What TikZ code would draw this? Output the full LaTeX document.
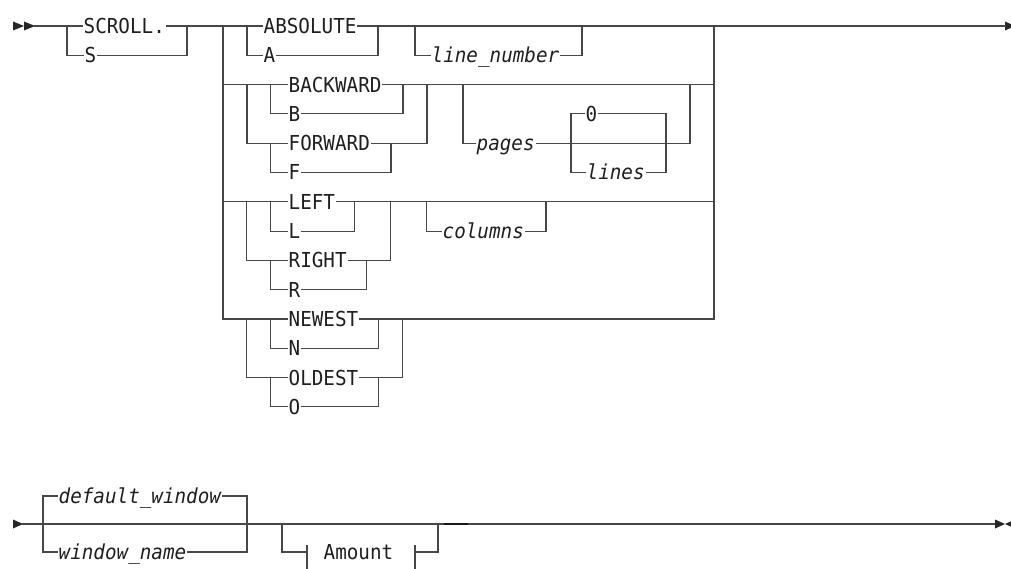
\documentclass[tikz,border=0pt]{standalone}
\usepackage{fontspec}
\newfontfamily\railfont[FakeStretch=0.935]{DejaVu Sans Mono}
\begin{document}
\begin{tikzpicture}[x=1pt,y=-1pt,
  rail/.style={line width=1.1pt, draw=black!72, line cap=rect},
  kw/.style={anchor=base west, inner xsep=1pt, inner ysep=1pt, fill=white, text=black!88,
    font={\railfont\fontsize{20.6pt}{21pt}\selectfont}},
  var/.style={kw, font={\railfont\itshape\fontsize{20.6pt}{21pt}\selectfont}},
  tip/.style={fill=black!85, draw=none}]
\useasboundingbox (0,0) rectangle (1011,569);
\clip (0,0) rectangle (1011,569);
% ---------- first line ----------
\coordinate (start1) at (35,26);
\coordinate (end1) at (1005,26);
\fill[tip] (13,21.5) -- (24,26) -- (13,30.5) -- cycle;
\fill[tip] (24,21.5) -- (35,26) -- (24,30.5) -- cycle;
\fill[tip] (1005,21.5) -- (1015,26) -- (1005,30.5) -- cycle;
\draw[rail] (start1) -- (end1);
% SCROLL. / S
\draw[rail] (67,26) -- (67,55.3) -- (187,55.3) -- (187,26);
% main verticals
\draw[rail] (223,26) -- (223,319);
\draw[rail] (714,26) -- (714,319);
% ABSOLUTE / A
\draw[rail] (247,26) -- (247,55.3) -- (378,55.3) -- (378,26);
% line_number
\draw[rail] (415,26) -- (415,55.3) -- (582,55.3) -- (582,26);
% row BACKWARD
\draw[rail] (223,84.6) -- (714,84.6);
\draw[rail] (247,84.6) -- (247,143.2) -- (427,143.2) -- (427,84.6);
\draw[rail] (270.7,84.6) -- (270.7,113.9) -- (403,113.9) -- (403,84.6);
\draw[rail] (270.7,143.2) -- (270.7,172.5) -- (391,172.5) -- (391,143.2);
% pages
\draw[rail] (463,84.6) -- (463,143.2) -- (690,143.2) -- (690,84.6);
\draw[rail] (571,113.9) rectangle (666,172.5);
% row LEFT
\draw[rail] (223,201.8) -- (714,201.8);
\draw[rail] (246.7,201.8) -- (246.7,260.4) -- (390.7,260.4) -- (390.7,201.8);
\draw[rail] (270.7,201.8) -- (270.7,231.1) -- (354.3,231.1) -- (354.3,201.8);
\draw[rail] (270.7,260.4) -- (270.7,289.7) -- (366.7,289.7) -- (366.7,260.4);
\draw[rail] (426.7,201.8) -- (426.7,231.1) -- (546,231.1) -- (546,201.8);
% row NEWEST
\draw[rail] (223,319) -- (714,319);
\draw[rail] (246.7,319) -- (246.7,377.6) -- (402.3,377.6) -- (402.3,319);
\draw[rail] (270.7,319) -- (270.7,348.3) -- (378.3,348.3) -- (378.3,319);
\draw[rail] (270.7,377.6) -- (270.7,406.9) -- (378.3,406.9) -- (378.3,377.6);
% texts, first line
\node[kw]  (scroll)  at (82.5,33.5)    {SCROLL.};
\node[kw]  (s)       at (83.5,62.8)  {S};
\node[kw]  (absolute) at (262.5,33.5)  {ABSOLUTE};
\node[kw]  (a)       at (262.5,62.8) {A};
\node[var] (linenum) at (430.5,62.8) {line\_number};
\node[kw]  (backward) at (287.5,92.1) {BACKWARD};
\node[kw]  (b)       at (287.5,121.4) {B};
\node[kw]  (forward) at (287.5,150.7) {FORWARD};
\node[kw]  (f)       at (287.5,180) {F};
\node[var] (pages)   at (475.5,150.7) {pages};
\node[kw]  (zero)    at (584.5,121.4) {0};
\node[var] (lines)   at (585.5,180) {lines};
\node[kw]  (left)    at (287.5,209.3) {LEFT};
\node[kw]  (l)       at (287.5,238.6) {L};
\node[kw]  (right)   at (287.5,267.9) {RIGHT};
\node[kw]  (r)       at (287.5,297.2) {R};
\node[var] (columns) at (441.5,238.6) {columns};
\node[kw]  (newest)  at (287.5,326.5)   {NEWEST};
\node[kw]  (n)       at (287.5,355.8) {N};
\node[kw]  (oldest)  at (287.5,385.1) {OLDEST};
\node[kw]  (o)       at (287.5,414.4) {O};
% ---------- second line ----------
\coordinate (start2) at (23,524);
\coordinate (end2) at (995,524);
\fill[tip] (13,519.5) -- (23,524) -- (13,528.5) -- cycle;
\draw[rail] (start2) -- (end2);
\fill[tip] (995,519.5) -- (1005,524) -- (995,528.5) -- cycle;
\fill[tip] (1015,519.5) -- (1005,524) -- (1015,528.5) -- cycle;
\draw[rail] (43,496) rectangle (247,552);
\node[var] (defwin)  at (57.5,503.5)  {default\_window};
\node[var] (winname) at (57.5,559.5)  {window\_name};
% Amount fragment
\draw[rail] (282,524) -- (282,552) -- (307,552);
\draw[rail] (307,546) -- (307,575);
\draw[rail] (415,546) -- (415,575);
\draw[rail] (415,552) -- (438,552) -- (438,524);
\node[kw, fill=none] (amount) at (322.5,559.5) {Amount};
\draw[line width=1.8pt, draw=black!90] (444,524) -- (468,524);
\end{tikzpicture}
\end{document}
